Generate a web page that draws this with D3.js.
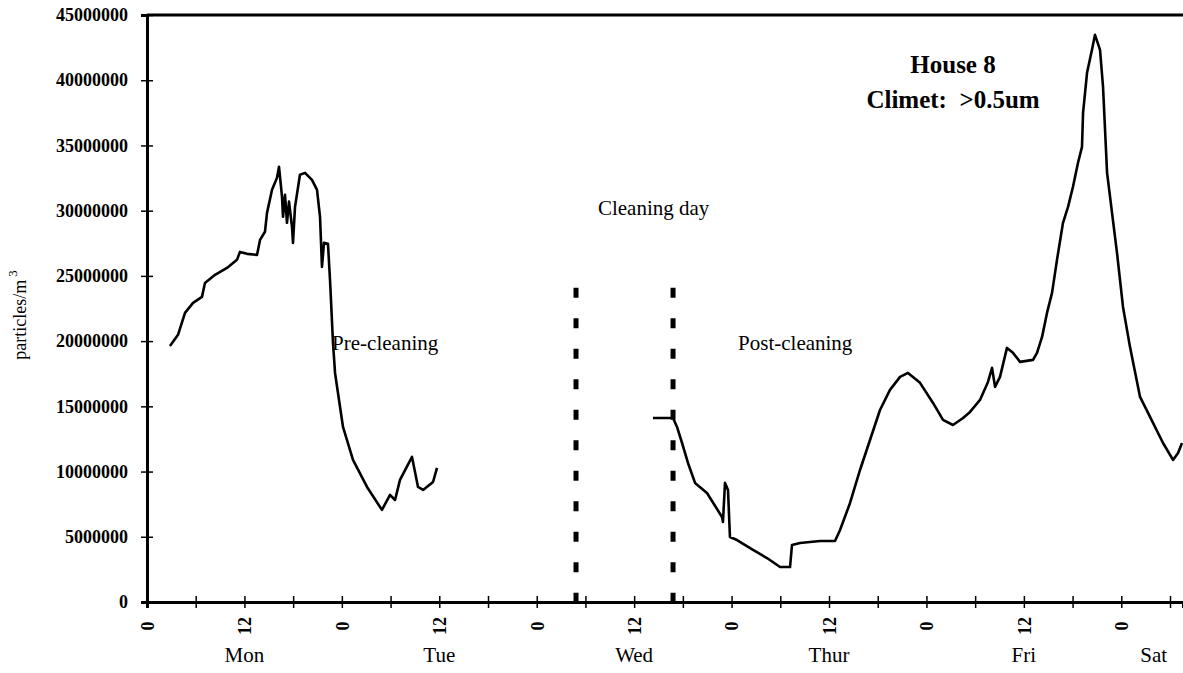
<!DOCTYPE html>
<html>
<head>
<meta charset="utf-8">
<script src="https://cdn.jsdelivr.net/npm/d3@7"></script>
<style>
  body { margin: 0; background: #fff; }
  svg { display: block; font-family: "Liberation Serif", "Times New Roman", serif; }
</style>
</head>
<body>
<div id="chart"></div>
<script>
// hours since Monday 0:00, values in particles/m3
const preHours = [2.83, 3.82, 4.68, 5.67, 6.77, 7.14, 8.38, 9.85, 11.08, 11.45, 12.32, 13.55, 13.92, 14.53, 14.78, 15.40, 16.01, 16.26, 16.63, 16.75, 17.00, 17.24, 17.49, 17.86, 17.98, 18.23, 18.84, 19.46, 20.32, 20.94, 21.31, 21.55, 21.80, 22.29, 22.54, 22.66, 22.91, 23.16, 24.14, 25.37, 27.10, 28.94, 29.93, 30.55, 31.16, 32.64, 33.38, 34.00, 35.23, 35.72];
const preValues = [19.63, 20.48, 22.16, 22.93, 23.39, 24.46, 25.08, 25.61, 26.23, 26.84, 26.69, 26.61, 27.76, 28.38, 29.83, 31.60, 32.52, 33.36, 31.06, 29.53, 31.21, 29.07, 30.69, 28.76, 27.53, 30.29, 32.75, 32.90, 32.36, 31.60, 29.53, 25.69, 27.53, 27.46, 24.69, 23.16, 19.86, 17.56, 13.42, 10.89, 8.82, 7.06, 8.21, 7.82, 9.36, 11.12, 8.82, 8.59, 9.20, 10.28].map(v => v * 1e6);

const postHours = [62.32, 64.79, 65.28, 65.90, 66.63, 67.50, 68.97, 70.82, 70.94, 71.19, 71.56, 71.80, 72.67, 74.64, 76.36, 77.97, 79.20, 79.44, 80.43, 82.89, 84.74, 85.36, 86.59, 87.82, 89.05, 90.28, 91.51, 92.75, 93.73, 95.21, 96.81, 98.04, 99.27, 100.51, 101.37, 102.60, 103.58, 104.08, 104.45, 105.06, 105.92, 106.66, 107.53, 109.13, 109.62, 110.24, 110.85, 111.47, 112.08, 112.82, 113.44, 114.05, 114.67, 115.16, 115.29, 115.78, 116.39, 116.76, 117.38, 117.75, 118.25, 119.47, 120.21, 121.07, 122.31, 123.54, 125.14, 126.37, 126.99, 127.48];
const postValues = [14.11, 14.11, 13.42, 12.19, 10.66, 9.13, 8.36, 6.52, 6.14, 9.13, 8.59, 4.98, 4.75, 3.99, 3.37, 2.68, 2.68, 4.37, 4.52, 4.68, 4.68, 5.52, 7.59, 10.12, 12.42, 14.72, 16.26, 17.26, 17.56, 16.80, 15.26, 13.96, 13.57, 14.11, 14.57, 15.49, 16.87, 17.95, 16.49, 17.26, 19.48, 19.10, 18.41, 18.56, 19.10, 20.32, 22.16, 23.70, 26.23, 29.07, 30.29, 31.83, 33.67, 34.89, 37.50, 40.57, 42.33, 43.48, 42.33, 39.50, 32.90, 26.77, 22.62, 19.56, 15.72, 14.19, 12.19, 10.89, 11.43, 12.19].map(v => v * 1e6);

const yTicks = [0, 5e6, 10e6, 15e6, 20e6, 25e6, 30e6, 35e6, 40e6, 45e6];
const xTicks = d3.range(0, 127, 6);
const dayNames = ["Mon", "Tue", "Wed", "Thur", "Fri", "Sat"];
const dayHours = [12, 36, 60, 84, 108, 124];
const cleaningMarks = [52.84, 64.79];
const markTop = 24.1e6;

const width = 1183;
const height = 673;
const margin = {top: 15, right: 0, bottom: 71, left: 147};

const svg = d3.select('#chart')
    .append('svg')
    .attr('width', width)
    .attr('height', height);

const x = d3.scaleLinear()
    .domain([0, 127.6])
    .range([margin.left, width - margin.right]);

const y = d3.scaleLinear()
    .domain([0, 45e6])
    .range([height - margin.bottom, margin.top]);

// y axis
const yAxis = svg.append('g')
    .attr('transform', `translate(${margin.left},0)`)
    .call(d3.axisLeft(y).tickValues(yTicks).tickFormat(d3.format('d')).tickSize(6).tickPadding(13));
yAxis.select('.domain').attr('stroke-width', 3);
yAxis.selectAll('.tick line').attr('x1', 6).attr('stroke-width', 1.5);
yAxis.selectAll('.tick text')
    .attr('font-family', '"Liberation Serif", "Times New Roman", serif')
    .attr('font-size', 18).attr('font-weight', 'bold').attr('fill', '#000');

// x axis
const xAxis = svg.append('g')
    .attr('transform', `translate(0,${height - margin.bottom})`)
    .call(d3.axisBottom(x).tickValues(xTicks).tickSize(6).tickFormat(d => d % 12 === 0 ? String(d % 24) : ''));
xAxis.select('.domain').attr('stroke-width', 3);
xAxis.selectAll('.tick line').attr('y1', -6).attr('stroke-width', 1.5);
xAxis.selectAll('.tick text')
    .attr('font-family', '"Liberation Serif", "Times New Roman", serif')
    .attr('font-size', 18).attr('font-weight', 'bold').attr('fill', '#000')
    .attr('y', 0).attr('dy', '0.35em')
    .attr('text-anchor', 'middle')
    .attr('transform', 'translate(0,24) rotate(-90)');

// top frame line
svg.append('line')
    .attr('x1', x(0)).attr('x2', width)
    .attr('y1', y(45e6)).attr('y2', y(45e6))
    .attr('stroke', '#000').attr('stroke-width', 3);

// day labels
svg.append('g')
    .selectAll('text')
    .data(dayNames)
    .enter()
    .append('text')
        .attr('x', (d, i) => x(dayHours[i]))
        .attr('y', 662)
        .attr('text-anchor', 'middle')
        .attr('font-size', 21)
        .text(d => d);

// y axis title
const yTitle = svg.append('text')
    .attr('transform', `translate(26,${y(22e6)}) rotate(-90)`)
    .attr('text-anchor', 'middle')
    .attr('font-size', 18);
yTitle.append('tspan').text('particles/m');
yTitle.append('tspan').attr('dx', 3).attr('dy', -9).attr('font-size', 13).text('3');

// cleaning day markers
svg.append('g')
    .selectAll('line')
    .data(cleaningMarks)
    .enter()
    .append('line')
        .attr('x1', d => x(d)).attr('x2', d => x(d))
        .attr('y1', y(markTop)).attr('y2', y(0))
        .attr('stroke', '#000')
        .attr('stroke-width', 5)
        .attr('stroke-dasharray', '10 20.5');

// series
const line = d3.line()
    .x(d => x(d[0]))
    .y(d => y(d[1]));

[[preHours, preValues], [postHours, postValues]].forEach(([hs, vs]) => {
    svg.append('path')
        .datum(hs.map((h, i) => [h, vs[i]]))
        .attr('fill', 'none')
        .attr('stroke', '#000')
        .attr('stroke-width', 2.6)
        .attr('stroke-linejoin', 'round')
        .attr('d', line);
});

// annotations
svg.append('text').attr('x', x(22.8)).attr('y', y(19.3e6)).attr('font-size', 21).text('Pre-cleaning');
svg.append('text').attr('x', x(72.8)).attr('y', y(19.3e6)).attr('font-size', 21).text('Post-cleaning');
svg.append('text').attr('x', x(62.4)).attr('y', y(29.7e6)).attr('text-anchor', 'middle').attr('font-size', 21).text('Cleaning day');
svg.append('text').attr('x', 953).attr('y', 73).attr('text-anchor', 'middle').attr('font-size', 25).attr('font-weight', 'bold').text('House 8');
svg.append('text').attr('x', 953).attr('y', 108).attr('text-anchor', 'middle').attr('font-size', 25).attr('font-weight', 'bold').attr('xml:space', 'preserve').text('Climet:  >0.5um');
</script>
</body>
</html>
